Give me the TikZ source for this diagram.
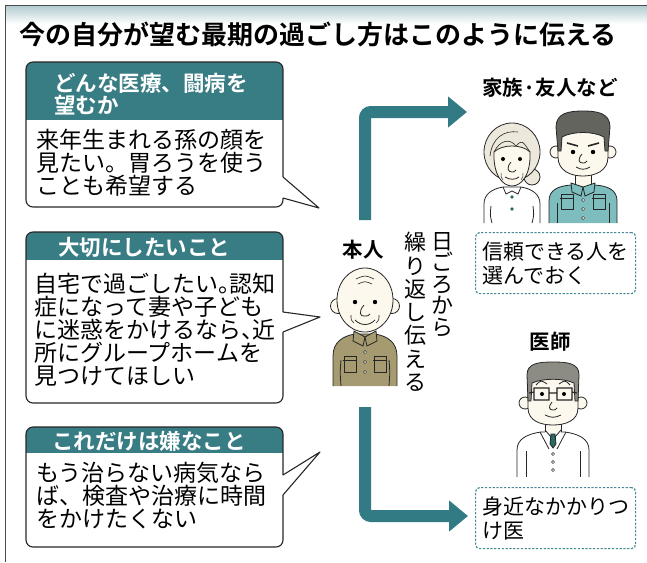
\documentclass[tikz,border=0pt]{standalone}
\usepackage{fontspec}
\setmainfont{Noto Sans CJK JP}[BoldFont={Noto Sans CJK JP Bold}]
\usetikzlibrary{arrows.meta}

\definecolor{hdr}{RGB}{56,124,132}
\definecolor{flowc}{RGB}{50,122,132}
\definecolor{notec}{RGB}{70,138,150}
\definecolor{khaki}{RGB}{166,154,112}
\definecolor{shirt}{RGB}{126,189,190}
\definecolor{hairdk}{RGB}{100,100,94}
\definecolor{hairgr}{RGB}{140,140,132}
\definecolor{hairw}{RGB}{237,232,220}
\definecolor{face}{RGB}{252,248,238}
\definecolor{tie}{RGB}{38,108,98}

% half-width punctuation
\newcommand\hp[1]{\makebox[0.5em][l]{#1}}

\begin{document}
\begin{tikzpicture}[x=1pt, y=-1pt,
  hd/.style={text=white, font=\bfseries\fontsize{21.5}{22}\selectfont,
             align=left, inner sep=0pt, anchor=west},
  txt/.style={font=\fontsize{23}{23}\selectfont, align=left, inner sep=0pt, anchor=west},
  who/.style={font=\bfseries\fontsize{20.5}{21}\selectfont, inner sep=0pt},
  vtxt/.style={font=\fontsize{22}{#1}\selectfont, align=center, inner sep=0pt, anchor=north},
  bubble/.style={draw=black!85, line width=1.1pt},
  note/.style={draw=notec, line width=1.2pt, dash pattern=on 2.2pt off 1.6pt,
               rounded corners=4pt, minimum width=160pt, minimum height=61pt,
               align=left, anchor=north west, font=\fontsize{21}{24}\selectfont},
  flow/.style={draw=flowc, line width=12pt, rounded corners=6pt,
               -{Triangle[length=19pt, width=30pt]}},
  ink/.style={line width=0.8pt, draw=black!85}]
\useasboundingbox (0,0) rectangle (647,562);

% title band and frame
\shade[top color=hdr!40, bottom color=white] (5,5) rectangle (647,24);
\draw[black!70, line width=1pt] (5,562) -- (5,5) -- (647,5);
\node[font=\bfseries\fontsize{26}{26}\selectfont, anchor=west, inner sep=0pt] (title)
  at (19,35) {今の自分が望む最期の過ごし方はこのように伝える};

% speech bubbles with teal heads
\foreach \yt/\yb/\yh/\ya/\yc/\px/\py in {62/207/120/177/198/319/208,
    232/403/260/312/332/320/317, 427/547/453/475/495/320/452}{
  \begin{scope}
    \clip[rounded corners=7pt] (26,\yt) rectangle (283,\yb);
    \fill[hdr] (26,\yt) rectangle (283,\yh);
  \end{scope}
  \draw[bubble, rounded corners=7pt] (283,\ya) -- (283,\yt) -- (26,\yt) -- (26,\yb)
    -- (283,\yb) -- (283,\yc);
  \draw[bubble, line join=round] (283,\ya) -- (\px,\py) -- (283,\yc);
}
\node[hd] (h1) at (54,94) {どんな医療、闘病を\\望むか};
\node[hd] (h2) at (58,247) {大切にしたいこと};
\node[hd] (h3) at (52,441) {これだけは嫌なこと};
\node[txt] (t1) at (36,163) {来年生まれる孫の顔を\\見たい。胃ろうを使う\\ことも希望する};
\node[txt] (t2) at (34,330) {自宅で過ごしたい\hp{。}認知\\症になって妻や子ども\\
  に迷惑をかけるなら\hp{、}近\\所にグループホームを\\見つけてほしい};
\node[txt] (t3) at (36,496) {もう治らない病気なら\\ば、検査や治療に時間\\をかけたくない};

% labels
\node[who] (self) at (363,250) {本人};
\node[who] (family) at (550,88) {家族·友人など};
\node[who] (doctor) at (550,342) {医師};
\node[vtxt=21.5] (tell1) at (442,232) {日\\ご\\ろ\\か\\ら};
\node[vtxt=23.3] (tell2) at (415,232) {繰\\り\\返\\し\\伝\\え\\る};

\node[note] (fnote) at (475,232) {信頼できる人を\\選んでおく};
\node[note] (dnote) at (475,487) {身近なかかりつ\\け医};

% arrows
\coordinate (upfrom) at (365,220);
\coordinate (upto) at (467,112);
\coordinate (downfrom) at (365,407);
\coordinate (downto) at (468,516);
\draw[flow] (upfrom) |- (upto);
\draw[flow] (downfrom) |- (downto);

% old man
\begin{scope}[shift={(365,300)}]
  \filldraw[ink, fill=khaki] (-32,86) -- (-32,56) .. controls (-32,42) and (-22,36) .. (-10,34)
    -- (10,34) .. controls (22,36) and (32,42) .. (32,56) -- (32,86);
  \draw[ink] (-24,60) .. controls (-25,72) .. (-24,86) (24,60) .. controls (25,72) .. (24,86);
  \draw[ink] (-21,56) rectangle (-9,72) (-22,60) -- (-8,60);
  \draw[ink] (9,56) rectangle (21,72) (8,60) -- (22,60);
  \filldraw[ink, fill=khaki] (-11,31) -- (-12,41) -- (-2,46) -- (0,37) -- cycle;
  \filldraw[ink, fill=khaki] (11,31) -- (12,41) -- (2,46) -- (0,37) -- cycle;
  \foreach \b in {52,62,72} \filldraw[ink, fill=white, line width=0.5pt] (0,\b) circle [radius=1.6];
  \filldraw[ink, fill=face] (-27,6) circle [radius=7.5] (27,6) circle [radius=7.5];
  \filldraw[ink, fill=face] (0,0) ellipse [x radius=28, y radius=32];
  \draw[ink, line width=0.6pt] (-9,-21) .. controls (0,-25) .. (9,-21)
    (-7,-16) .. controls (0,-19) .. (7,-16);
  \fill (-10,2) circle [radius=2.2] (10,2) circle [radius=2.2];
  \draw[ink] (-1,5) .. controls (-7,12) and (-5,17) .. (0,16) .. controls (3,16) .. (5,14);
  \draw[ink] (-10,20) .. controls (-4,26) and (4,26) .. (10,20);
  \draw[ink, line width=0.6pt] (-14,15) .. controls (-14,20) .. (-11,23)
    (14,15) .. controls (14,20) .. (11,23);
\end{scope}

% old woman
\begin{scope}[shift={(512,160)}]
  \filldraw[ink, fill=white] (-28,63) -- (-28,44) .. controls (-28,34) and (-20,29) .. (-9,27)
    -- (9,27) .. controls (20,29) and (28,34) .. (28,44) -- (28,63);
  \draw[ink] (-21,46) .. controls (-22,55) .. (-20,63) (21,46) .. controls (22,55) .. (20,63);
  \draw[ink] (-9,27) -- (-6,34) -- (0,31) -- (6,34) -- (9,27);
  \fill[tie] (0,37) circle [radius=1.8] (0,49) circle [radius=1.8];
  \filldraw[ink, fill=hairw] (20,17) circle [radius=8];
  \filldraw[ink, fill=hairw] (0,-8) ellipse [x radius=28, y radius=29];
  \filldraw[ink, fill=face] (-18,-8) .. controls (-19,14) and (-10,26) .. (0,26)
    .. controls (10,26) and (19,14) .. (18,-8) .. controls (10,-16) and (-10,-16) .. (-18,-8) -- cycle;
  \draw[ink, line width=0.6pt] (-18,-8) .. controls (-12,-20) and (-2,-22) .. (4,-14)
    (-22,-4) .. controls (-20,-22) and (-8,-30) .. (6,-28) (4,-14) .. controls (10,-20) .. (18,-8);
  \fill (-9,-1) circle [radius=2] (8,-1) circle [radius=2];
  \draw[ink] (-1,2) .. controls (-6,8) and (-4,12) .. (0,12) .. controls (2,12) .. (4,10);
  \draw[ink] (-7,17) .. controls (-2,20) and (3,20) .. (7,17);
  \draw[ink, line width=0.5pt] (-11,13) .. controls (-11,17) .. (-9,20) (11,13) .. controls (11,17) .. (9,20);
\end{scope}

% man
\begin{scope}[shift={(583,145)}]
  \filldraw[ink, fill=shirt] (-34,78) -- (-34,56) .. controls (-34,45) and (-25,41) .. (-12,40)
    -- (12,40) .. controls (25,41) and (34,45) .. (34,56) -- (34,78);
  \draw[ink] (-26,58) -- (-26,78) (26,58) -- (26,78);
  \draw[ink] (-22,49) rectangle (-10,64) (-23,53) -- (-9,53);
  \draw[ink] (10,49) rectangle (22,64) (9,53) -- (23,53);
  \fill[face] (-8,24) rectangle (8,42);
  \draw[ink] (-8,24) -- (-8,40) (8,24) -- (8,40);
  \filldraw[ink, fill=shirt] (-12,38) -- (-11,47) -- (-2,51) -- (0,42) -- cycle;
  \filldraw[ink, fill=shirt] (12,38) -- (11,47) -- (2,51) -- (0,42) -- cycle;
  \foreach \b in {55,64,73} \filldraw[ink, fill=white, line width=0.5pt] (0,\b) circle [radius=1.6];
  \filldraw[ink, fill=face] (-27,7) circle [radius=6] (27,7) circle [radius=6];
  \filldraw[ink, fill=face] (-25,-20) -- (-25,12) .. controls (-25,26) and (-12,31) .. (0,31)
    .. controls (12,31) and (25,26) .. (25,12) -- (25,-20) -- cycle;
  \filldraw[ink, fill=hairdk] (-25,6) -- (-27,-18) .. controls (-27,-32) and (-14,-34) .. (0,-34)
    .. controls (14,-34) and (27,-32) .. (27,-18) -- (25,6) -- (22,6) -- (21,-8)
    .. controls (10,-14) and (-10,-14) .. (-21,-8) -- (-22,6) -- cycle;
  \draw[ink, line width=1.6pt] (-16,-2) -- (-5,1) (5,1) -- (16,-2);
  \fill (-10,7) circle [radius=2.2] (10,7) circle [radius=2.2];
  \draw[ink] (-1,9) .. controls (-6,15) and (-4,18) .. (0,18) .. controls (2,18) .. (4,16);
  \draw[ink] (-7,22) .. controls (-2,25) and (2,25) .. (7,22);
\end{scope}

% doctor
\begin{scope}[shift={(553,395)}]
  \filldraw[ink, fill=white] (-36,82) -- (-36,55) .. controls (-36,44) and (-26,39) .. (-12,37)
    -- (12,37) .. controls (26,39) and (36,44) .. (36,55) -- (36,82);
  \draw[ink] (-27,56) -- (-27,82) (27,56) -- (27,82);
  \fill[face] (-8,24) rectangle (8,38);
  \draw[ink] (-8,24) -- (-8,37) (8,24) -- (8,37);
  \filldraw[ink, fill=tie] (-2,39) -- (2,39) -- (3,49) -- (0,53) -- (-3,49) -- cycle;
  \draw[ink] (-8,35) -- (-2,42) (8,35) -- (2,42);
  \draw[ink] (-13,37) -- (-4,54) (13,37) -- (4,54);
  \foreach \b in {59,67,75} \filldraw[ink, fill=white, line width=0.5pt] (0,\b) circle [radius=1.6];
  \filldraw[ink, fill=face] (-28,8) circle [radius=6] (28,8) circle [radius=6];
  \filldraw[ink, fill=face] (-25,-20) -- (-25,13) .. controls (-25,26) and (-12,30) .. (0,30)
    .. controls (12,30) and (25,26) .. (25,13) -- (25,-20) -- cycle;
  \filldraw[ink, fill=hairgr] (-25,6) -- (-26,-20) .. controls (-26,-32) and (-14,-33) .. (0,-33)
    .. controls (14,-33) and (26,-32) .. (26,-20) -- (25,6) -- (22,6) -- (21,-12)
    .. controls (10,-17) and (-10,-17) .. (-21,-12) -- (-22,6) -- cycle;
  \draw[ink, line width=1.1pt] (-19,-7) rectangle (-4,5) (4,-7) rectangle (19,5)
    (-4,-2) -- (4,-2) (-19,-3) -- (-24,-2) (19,-3) -- (24,-2);
  \draw[ink] (-17,-10) .. controls (-12,-15) .. (-6,-11) (6,-11) .. controls (12,-15) .. (17,-10);
  \fill (-11,-1) circle [radius=2] (11,-1) circle [radius=2];
  \draw[ink] (-1,7) .. controls (-5,12) and (-4,15) .. (0,15) .. controls (2,15) .. (4,13);
  \draw[ink] (-8,20) .. controls (-2,23) and (2,23) .. (8,20);
\end{scope}
\end{tikzpicture}
\end{document}
